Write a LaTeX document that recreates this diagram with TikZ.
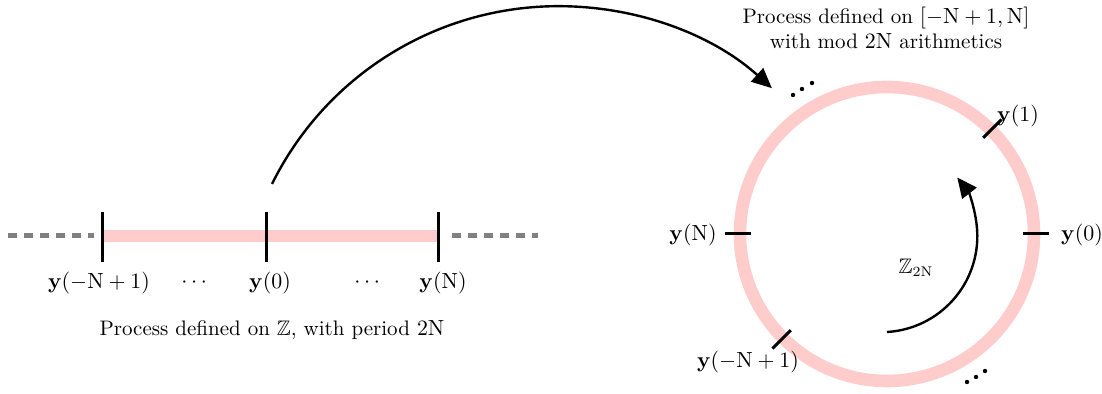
\documentclass[tikz,border=0pt]{standalone}
\usepackage{amsmath,amssymb}
\usetikzlibrary{arrows.meta}
\definecolor{pinkband}{RGB}{255,204,204}
\definecolor{dashgray}{RGB}{128,128,128}
\begin{document}
\begin{tikzpicture}[x=0.5pt,y=-0.5pt,
  lbl/.style={inner sep=0pt, font=\fontsize{10.5}{12.5}\selectfont},
  tickline/.style={line width=1.5pt, black},
  band/.style={line width=6.3pt, pinkband},
  dashline/.style={line width=2.5pt, dashgray, dash pattern=on 4.5pt off 3.5pt},
  bigarrow/.style={line width=1.2pt, -{Triangle[length=10pt,width=9pt]}},
  dotmark/.style={circle, fill=black, inner sep=0pt, minimum size=2.2pt}]
\useasboundingbox (0,0) rectangle (1102,394);

% ---- line representation ----
\coordinate (L0) at (8,236);
\coordinate (L1) at (94,236);
\coordinate (TA) at (102,236);
\coordinate (TB) at (266,236);
\coordinate (TC) at (438,236);
\coordinate (R1) at (452,236);
\coordinate (R0) at (538,236);
\draw[dashline] (L0) -- (L1);
\draw[dashline] (R1) -- (R0);
\draw[band] (TA) -- (TC);
\foreach \t in {TA,TB,TC}
  \draw[tickline] ([yshift=12]\t.center) -- ([yshift=-13]\t.center);

\node[lbl] (la) at (99,283) {$\mathbf{y}(-\mathrm{N}+1)$};
\node[lbl] (ld1) at (196,283) {$\cdots$};
\node[lbl] (lb) at (270,283) {$\mathbf{y}(0)$};
\node[lbl] (ld2) at (369,283) {$\cdots$};
\node[lbl] (lc) at (443,283) {$\mathbf{y}(\mathrm{N})$};
\node[lbl] (cap1) at (272,330) {Process defined on $\mathbb{Z}$, with period $2\mathrm{N}$};

% ---- circle representation ----
\coordinate (C) at (887,234);
\draw[band] (C) circle[radius=147];
\foreach \a in {0,-45,180,135}
  \draw[tickline] ([shift={(\a:136)}]C) -- ([shift={(\a:162)}]C);

\node[lbl] (c0) at (1082,235) {$\mathbf{y}(0)$};
\node[lbl] (c1) at (1018,116) {$\mathbf{y}(1)$};
\node[lbl] (cN) at (693,235) {$\mathbf{y}(\mathrm{N})$};
\node[lbl] (cm) at (748,362) {$\mathbf{y}(-\mathrm{N}+1)$};

\node[dotmark] (d1) at (793,95) {};
\node[dotmark] (d2) at (802,89) {};
\node[dotmark] (d3) at (812,83) {};
\node[dotmark] (e1) at (967,382) {};
\node[dotmark] (e2) at (976,377) {};
\node[dotmark] (e3) at (985,371) {};

\node[lbl, align=center] (cap2) at (886,28) {Process defined on $[-\mathrm{N}+1,\mathrm{N}]$\\with mod $2\mathrm{N}$ arithmetics};

% inner arrow
\coordinate (inS) at (887,332);
\draw[bigarrow] (inS) arc[start angle=86.6, end angle=-37.7, radius=96];
\node[lbl] (zl) at (916,268) {$\mathbb{Z}_{2\mathrm{N}}$};

% big arrow
\coordinate (arrS) at (272,184);
\draw[bigarrow] (arrS) arc[start angle=-153.7, end angle=-48, radius=319.3];
\end{tikzpicture}
\end{document}
